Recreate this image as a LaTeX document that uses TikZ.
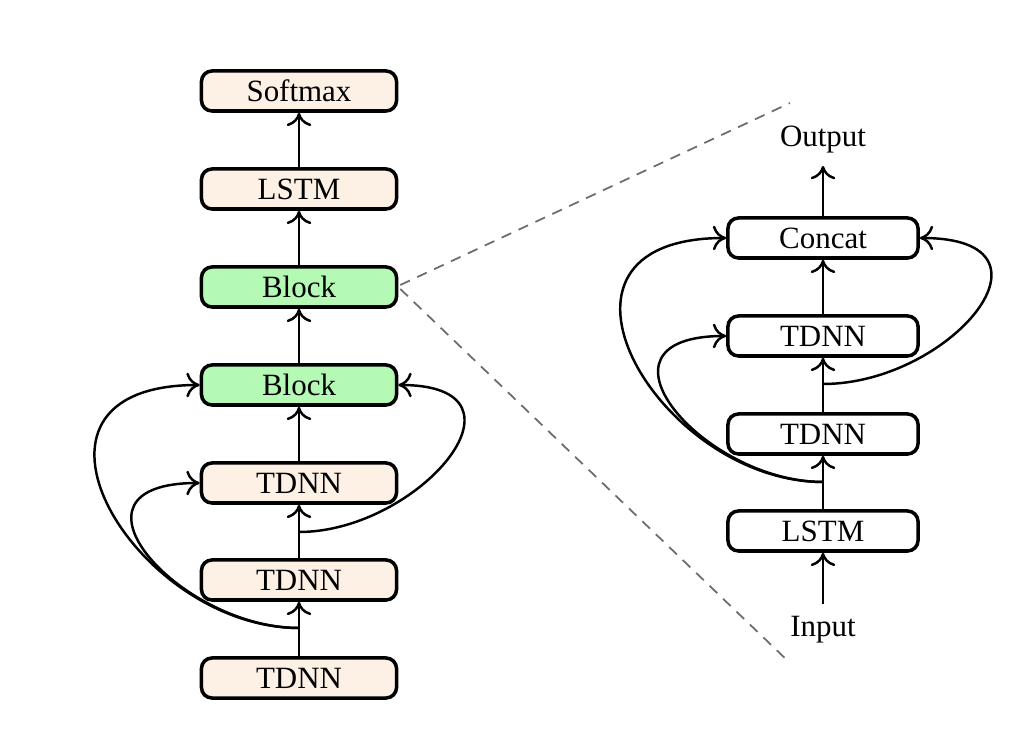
\documentclass[tikz,border=0pt]{standalone}
\usepackage{fontspec}
\setmainfont{Liberation Serif}
\usetikzlibrary{arrows.meta}
\definecolor{peach}{RGB}{253,240,228}
\definecolor{mint}{RGB}{180,250,180}
\begin{document}
\begin{tikzpicture}[x=0.01cm,y=-0.01cm,
  font=\fontsize{8.8}{10}\selectfont,
  box/.style={draw=black,line width=1pt,rounded corners=3pt,minimum width=1.95cm,minimum height=0.40cm,inner sep=0pt},
  lbox/.style={box,fill=peach},
  gbox/.style={box,fill=mint},
  rbox/.style={box,fill=white,minimum width=1.90cm},
  arr/.style={line width=0.7pt,-{To[length=3.8pt,width=7pt]}},
  guide/.style={gray!85!black,line width=0.5pt,dash pattern=on 3pt off 2.3pt}]
\useasboundingbox (0,0) rectangle (1024,734);
% left column
\node[lbox] (sm) at (299,91) {Softmax};
\node[lbox] (ls) at (299,189) {LSTM};
\node[gbox] (b1) at (299,287) {Block};
\node[gbox] (b2) at (299,385) {Block};
\node[lbox] (t3) at (299,483) {TDNN};
\node[lbox] (t2) at (299,580) {TDNN};
\node[lbox] (t1) at (299,678) {TDNN};
\draw[arr] (t1.north) -- (t2.south);
\draw[arr] (t2.north) -- (t3.south);
\draw[arr] (t3.north) -- (b2.south);
\draw[arr] (b2.north) -- (b1.south);
\draw[arr] (b1.north) -- (ls.south);
\draw[arr] (ls.north) -- (sm.south);
\coordinate (la) at (299,628);
\coordinate (lc) at (299,532);
\draw[arr] (la) .. controls +(-165,0) and +(-210,0) .. (b2.west);
\draw[arr] (la) .. controls +(-120,0) and +(-150,0) .. (t3.west);
\draw[arr] (lc) .. controls +(120,0) and +(145,0) .. (b2.east);
% right column
\node (out) at (823,140) {Output};
\node[rbox] (cc) at (823,238) {Concat};
\node[rbox] (r3) at (823,336) {TDNN};
\node[rbox] (r2) at (823,434) {TDNN};
\node[rbox] (rl) at (823,531) {LSTM};
\node (in) at (823,630) {Input};
\draw[arr] (in.north) -- (rl.south);
\draw[arr] (rl.north) -- (r2.south);
\draw[arr] (r2.north) -- (r3.south);
\draw[arr] (r3.north) -- (cc.south);
\draw[arr] (cc.north) -- (out.south);
\coordinate (ra) at (823,482);
\coordinate (rc) at (823,384);
\draw[arr] (ra) .. controls +(-165,0) and +(-210,0) .. (cc.west);
\draw[arr] (ra) .. controls +(-120,0) and +(-148,0) .. (r3.west);
\draw[arr] (rc) .. controls +(128,0) and +(152,0) .. (cc.east);
% zoom guides
\coordinate (gt) at (790,103);
\coordinate (gb) at (790,663);
\draw[guide] (b1.east) ++(2,-2) -- (gt);
\draw[guide] (b1.east) ++(2,2) -- (gb);
\end{tikzpicture}
\end{document}
